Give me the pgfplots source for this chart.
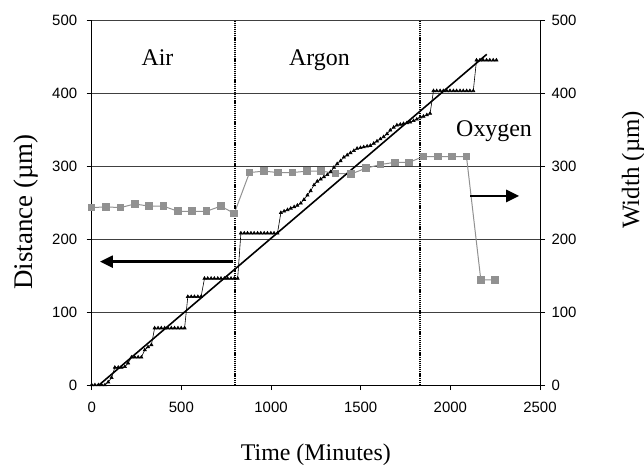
\documentclass[border=0pt]{standalone}
\usepackage{fontspec}
\setmainfont{Liberation Serif}
\newfontfamily\arialfont{Liberation Sans}
\usepackage{pgfplots}
\pgfplotsset{compat=1.18}
\usetikzlibrary{arrows.meta}
\definecolor{widthgray}{RGB}{145,145,145}

\pgfplotsset{
  base/.style={
    width=448.3bp, height=365bp, scale only axis,
    xmin=0, xmax=2500, ymin=0, ymax=500,
    tick align=outside, major tick length=5bp,
    tick style={black, line width=0.8bp},
    ticklabel style={font=\arialfont\fontsize{15}{15}\selectfont},
    /pgf/number format/assume math mode=true,
    /pgf/number format/1000 sep={},
    ytick={0,100,...,500},
    axis line style={line width=1bp},
    clip=false,
  },
}

\begin{document}
\begin{tikzpicture}[font=\fontsize{24}{28}\selectfont]
\useasboundingbox (-91.7bp,-80bp) rectangle (552.3bp,385bp);

\begin{axis}[base,
  axis x line*=bottom, axis y line*=left,
  xtick={0,500,...,2500},
  xticklabel style={yshift=-9bp},
  yticklabel style={xshift=-6bp},
  ymajorgrids, grid style={black!75, line width=0.6bp},
  xlabel={Time (Minutes)}, ylabel={Distance (µm)},
  xlabel style={at={(axis description cs:0.5,-0.208)}, anchor=base},
  ylabel style={at={(axis description cs:-0.131,0.252)}, anchor=base west,
    font=\fontsize{27}{30}\selectfont},
]
% width (right scale, same range)
\addplot[widthgray, line width=1bp, mark=square*, mark size=3.3bp,
  mark options={fill=widthgray, draw=widthgray}] coordinates {
 (0,243) (80,244) (160,243) (240,248) (320,245) (400,245) (480,238) (560,238)
 (640,238) (720,245) (795,235) (880,291) (960,293) (1040,291) (1120,291)
 (1200,293) (1280,293) (1360,290) (1445,289) (1530,297) (1610,302) (1690,305)
 (1770,305) (1850,313) (1930,313) (2010,313) (2090,313) (2170,144) (2250,144)
};
% distance
\addplot[black, line width=0.6bp, mark=triangle*, mark size=1.8bp] coordinates {
 (0,0) (18,0) (37,0) (55,0) (74,0) (92,4) (111,10) (129,24) (148,24) (166,24)
 (185,25) (203,30) (222,38) (240,38) (259,38) (277,38) (296,48) (314,52) (333,55)
 (351,78) (370,78) (388,78) (407,78) (425,78) (444,78) (462,78) (481,78) (499,78)
 (518,78) (536,121) (555,121) (573,121) (592,121) (610,121) (629,146) (647,146)
 (666,146) (684,146) (703,146) (721,146) (740,146) (758,146) (777,146) (795,146)
 (814,146) (832,208) (851,208) (869,208) (888,208) (906,208) (925,208) (943,208)
 (962,208) (980,208) (999,208) (1017,208) (1036,208) (1055,236) (1073,238)
 (1092,240) (1110,242) (1129,244) (1147,246) (1166,249) (1184,254) (1203,260)
 (1221,266) (1240,274) (1258,279) (1277,282) (1295,285) (1314,288) (1332,292)
 (1351,298) (1369,303) (1388,307) (1406,312) (1425,315) (1443,318) (1462,321)
 (1480,324) (1499,325) (1517,326) (1536,327) (1554,328) (1573,331) (1591,334)
 (1610,337) (1628,340) (1647,344) (1665,349) (1684,353) (1702,356) (1721,357)
 (1739,358) (1758,359) (1776,360) (1795,362) (1813,364) (1832,367) (1850,368)
 (1869,370) (1887,372) (1906,403) (1924,403) (1943,403) (1961,403) (1980,403)
 (1998,403) (2017,403) (2035,403) (2054,403) (2072,403) (2091,403) (2109,403)
 (2128,403) (2146,445) (2165,445) (2183,445) (2202,445) (2220,445) (2239,445)
 (2257,445)
};
% linear fit
\addplot[black, line width=1.6bp, no marks] coordinates {(41,0) (2203,453)};
% gas changes
\addplot[black, line width=1.8bp, dash pattern=on 1.2bp off 0.9bp, no marks]
  coordinates {(800,0) (800,500)};
\addplot[black, line width=1.8bp, dash pattern=on 1.2bp off 0.9bp, no marks]
  coordinates {(1830,0) (1830,500)};

\draw[line width=2.4bp, -{Triangle[length=13bp,width=12bp]}]
  (axis cs:790,169) -- (axis cs:46,169);
\draw[line width=2.4bp, -{Triangle[length=13bp,width=12bp]}]
  (axis cs:2110,259) -- (axis cs:2384,259);

\node[anchor=base] at (axis cs:367,437) {Air};
\node[anchor=base] at (axis cs:1270,437) {Argon};
\node[anchor=base] at (axis cs:2244,341) {Oxygen};
\end{axis}

\begin{axis}[base,
  axis x line=none, axis y line*=right,
  yticklabel style={xshift=3bp},
  ylabel={Width (µm)},
  ylabel style={at={(axis description cs:1.221,0.419)}, anchor=base west,
    font=\fontsize{25}{28}\selectfont},
]
\end{axis}
\end{tikzpicture}
\end{document}
